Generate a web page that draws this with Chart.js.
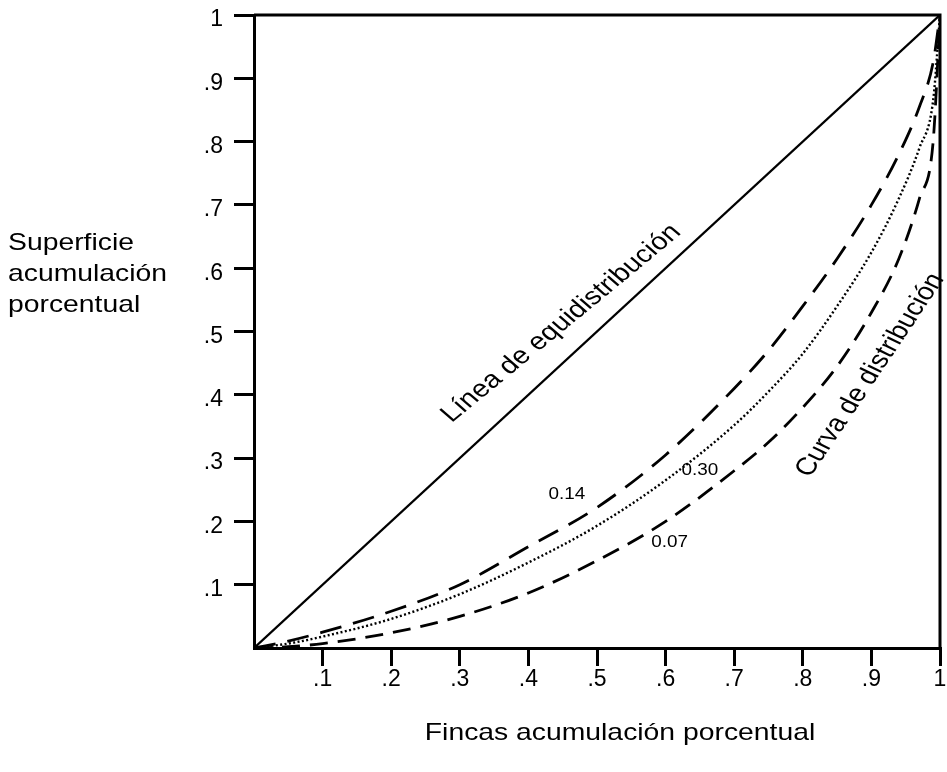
<!DOCTYPE html>
<html><head><meta charset="utf-8">
<script src="https://cdn.jsdelivr.net/npm/chart.js@4/dist/chart.umd.min.js"></script>
<style>html,body{margin:0;padding:0;background:#fff}</style>
</head><body>
<canvas id="c" width="947" height="772"></canvas>
<script>
// ---- data ----
const xShare   = [0, 0.05, 0.1, 0.2, 0.3, 0.4, 0.5, 0.6, 0.7, 0.75, 0.8, 0.85, 0.9, 0.94, 0.97, 0.99, 1];
const curve014 = [0, 0.011, 0.025, 0.058, 0.100, 0.160, 0.222, 0.305, 0.410, 0.470, 0.540, 0.615, 0.700, 0.780, 0.855, 0.925, 1];
const curve030 = [0, 0.007, 0.018, 0.046, 0.085, 0.135, 0.193, 0.265, 0.352, 0.405, 0.465, 0.540, 0.625, 0.710, 0.790, 0.865, 1];
const curve007 = [0, 0.002, 0.007, 0.024, 0.050, 0.087, 0.138, 0.200, 0.280, 0.325, 0.380, 0.445, 0.530, 0.615, 0.710, 0.800, 1];
const equiX = [0, 1];
const equiY = [0, 1];
const tickValues = [0, 0.1, 0.2, 0.3, 0.4, 0.5, 0.6, 0.7, 0.8, 0.9, 1];
const tickLabels = ['', '.1', '.2', '.3', '.4', '.5', '.6', '.7', '.8', '.9', '1'];
const xTitle = 'Fincas acumulación porcentual';
const yTitle = ['Superficie', 'acumulación', 'porcentual'];
const curveLabels = [
  {text: '0.14', x: 0.456, y: 0.245},
  {text: '0.30', x: 0.650, y: 0.283},
  {text: '0.07', x: 0.606, y: 0.169}
];
const lineLabels = [
  {text: 'Línea de equidistribución', x: 0.288, y: 0.355, angle: 39.5},
  {text: 'Curva de distribución', x: 0.81, y: 0.268, angle: 56}
];

const FONT = '"Liberation Sans", Arial, sans-serif';
const S = 1.18; // horizontal stretch of the scanned text

function pts(xs, ys) { return xs.map((x, i) => ({x: x, y: ys[i]})); }

function drawText(ctx, text, x, y, sizePx, angleDeg, align) {
  ctx.save();
  ctx.translate(x, y);
  ctx.scale(S, 1);
  if (angleDeg) {
    const a = Math.atan(Math.tan(angleDeg * Math.PI / 180) * S);
    ctx.rotate(-a);
  }
  ctx.font = sizePx + 'px ' + FONT;
  ctx.fillStyle = '#000';
  ctx.textAlign = align || 'left';
  ctx.textBaseline = 'alphabetic';
  ctx.fillText(text, 0, 0);
  ctx.restore();
}

const framePlugin = {
  id: 'frame',
  afterDatasetsDraw(chart) {
    const ctx = chart.ctx, xs = chart.scales.x, ys = chart.scales.y;
    const x0 = xs.getPixelForValue(0), x1 = xs.getPixelForValue(1);
    const y0 = ys.getPixelForValue(0), y1 = ys.getPixelForValue(1);
    ctx.save();
    ctx.strokeStyle = '#000';
    ctx.lineWidth = 3;
    ctx.beginPath();
    ctx.moveTo(x0, y1); ctx.lineTo(x1, y1);
    ctx.moveTo(x1, y1 - 1.5); ctx.lineTo(x1, y0);
    ctx.stroke();
    ctx.restore();
  },
  afterDraw(chart) {
    const ctx = chart.ctx, xs = chart.scales.x, ys = chart.scales.y;
    drawText(ctx, xTitle, 620, 740, 24, 0, 'center');
    yTitle.forEach((t, i) => drawText(ctx, t, 8, 250 + i * 31, 24, 0, 'left'));
    curveLabels.forEach(l => drawText(ctx, l.text, xs.getPixelForValue(l.x), ys.getPixelForValue(l.y) + 6, 16, 0, 'center'));
    lineLabels.forEach(l => drawText(ctx, l.text, xs.getPixelForValue(l.x), ys.getPixelForValue(l.y), 24.5, l.angle, 'left'));
  }
};

const gridColor = c => (c.tick && c.tick.value === 0) ? 'rgba(0,0,0,0)' : '#000';
const setTicks = scale => { scale.ticks = tickValues.map(v => ({value: v})); };
const tickLabel = v => { const i = tickValues.findIndex(t => Math.abs(t - v) < 1e-9); return i >= 0 ? tickLabels[i] : ''; };

new Chart(document.getElementById('c'), {
  type: 'scatter',
  data: {
    datasets: [
      {data: pts(equiX, equiY), showLine: true, borderColor: '#000', borderWidth: 2.3, pointRadius: 0},
      {data: pts(xShare, curve014), showLine: true, borderColor: '#000', borderWidth: 2.8, borderDash: [22, 12], pointRadius: 0, cubicInterpolationMode: 'monotone'},
      {data: pts(xShare, curve030), showLine: true, borderColor: '#000', borderWidth: 2.4, borderDash: [2, 2.4], pointRadius: 0, cubicInterpolationMode: 'monotone'},
      {data: pts(xShare, curve007), showLine: true, borderColor: '#000', borderWidth: 2.8, borderDash: [18, 10], pointRadius: 0, cubicInterpolationMode: 'monotone'}
    ]
  },
  options: {
    responsive: false,
    animation: false,
    devicePixelRatio: 1,
    layout: {padding: {left: 0, top: 15, right: 7, bottom: 0}},
    plugins: {legend: {display: false}, tooltip: {enabled: false}},
    scales: {
      x: {
        type: 'linear', min: 0, max: 1,
        afterBuildTicks: setTicks,
        afterFit: s => { s.height = 124; s.paddingLeft = 0; s.paddingRight = 0; },
        grid: {drawOnChartArea: false, drawTicks: true, tickLength: 18, lineWidth: 3, color: gridColor},
        border: {display: true, color: '#000', width: 3},
        ticks: {callback: tickLabel, color: '#000', font: {size: 23, family: FONT}, padding: 0, maxRotation: 0, autoSkip: false}
      },
      y: {
        type: 'linear', min: 0, max: 1,
        afterBuildTicks: setTicks,
        afterFit: s => { s.width = 254; s.paddingTop = 0; s.paddingBottom = 0; },
        grid: {drawOnChartArea: false, drawTicks: true, tickLength: 20, lineWidth: 3, color: gridColor},
        border: {display: true, color: '#000', width: 3},
        ticks: {callback: tickLabel, color: '#000', font: {size: 23, family: FONT}, padding: 11, labelOffset: 5, autoSkip: false}
      }
    }
  },
  plugins: [framePlugin]
});
</script>
</body></html>
